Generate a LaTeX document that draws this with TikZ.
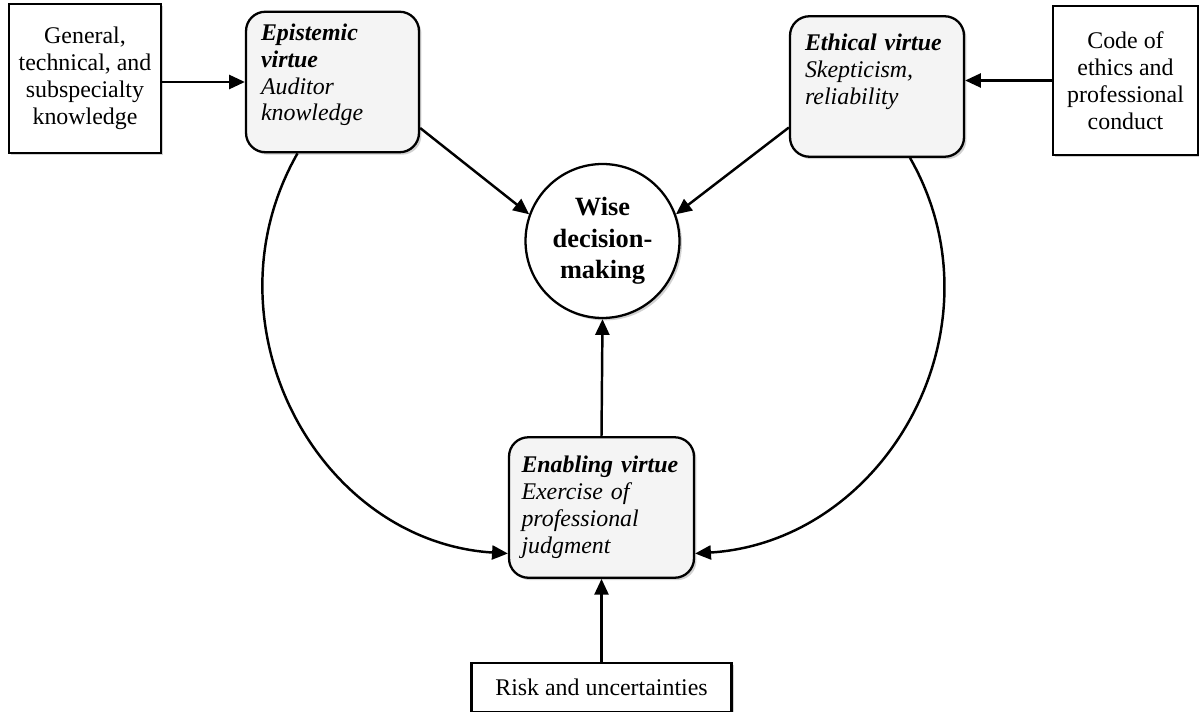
\documentclass[tikz,border=0pt]{standalone}
\usepackage{fontspec}
\setmainfont{Liberation Serif}
\usepackage{tikz}
\usetikzlibrary{arrows.meta, positioning, calc, shadows}
\definecolor{virtuegray}{RGB}{244,244,244}
\definecolor{lineblack}{RGB}{0,0,0}
\tikzset{
  %% ---- boxes ----
  srcbox/.style  = {rectangle, draw=lineblack, line width=1.3pt,
                    fill=white, minimum width=#1, minimum height=2.98cm,
                    align=center, inner sep=2pt,
                    font=\fontsize{13.6}{15.3}\selectfont,
                    drop shadow={fill=black, opacity=0.18,
                                 shadow xshift=1.4pt, shadow yshift=-1.4pt}},
  srcbox/.default = 3cm,
  virtue/.style  = {rectangle, rounded corners=11pt,
                    draw=lineblack, line width=1.3pt,
                    fill=virtuegray, text width=#1, align=left,
                    inner xsep=0.3cm, minimum height=2.81cm,
                    font=\fontsize{13.6}{15.3}\selectfont\itshape,
                    drop shadow={fill=black, opacity=0.18,
                                 shadow xshift=1.4pt, shadow yshift=-1.4pt}},
  virtue/.default = 2.9cm,
  goal/.style    = {circle, draw=lineblack, line width=1.3pt,
                    fill=white, minimum size=3.08cm, inner sep=0pt,
                    align=center, font=\fontsize{15}{17.9}\selectfont\bfseries,
                    drop shadow={fill=black, opacity=0.18,
                                 shadow xshift=1.4pt, shadow yshift=-1.4pt}},
  %% ---- arrows ----
  arrow/.style   = {-{Triangle[length=9pt,width=8pt]}, line width=1.4pt,
                    color=lineblack},
}

\begin{document}
\begin{tikzpicture}[x=0.02cm, y=-0.02cm]

  \path[use as bounding box, fill=white] (0,0) rectangle (1199,712);

  %% outer sources
  \node[srcbox=3.04cm] (gen) at (85,78.5)
    {General,\\ technical, and\\ subspecialty\\ knowledge};
  \node[srcbox=2.90cm] (code) at (1125.5,80.5)
    {Code of\\ ethics and\\ professional\\ conduct};

  %% virtues
  \node[virtue=2.86cm, text depth=2.0cm] (epi) at (332.5,82)
    {\textbf{Epistemic}\\ \textbf{virtue}\\ Auditor\\ knowledge};
  \node[virtue=2.88cm] (eth) at (877,86.5)
    {\textbf{Ethical virtue}\\ Skepticism,\\ reliability\\ \strut};
  \node[virtue=3.2cm, inner xsep=0.25cm] (enab) at (601.5,507.5)
    {\textbf{Enabling virtue}\\ Exercise of\\ professional\\ judgment};

  %% goal
  \node[goal] (wise) at (602.5,241) {Wise\\ decision-\\ making};

  %% risk
  \node[srcbox=5.2cm, minimum height=0.98cm, below=1.66cm of enab] (risk)
    {Risk and uncertainties};

  %% Arrows
  \draw[arrow] (gen.east |- epi.west) -- (epi.west);
  \draw[arrow] (code.west) -- (code.west -| eth.east);
  \draw[arrow] ($(epi.east)+(0,46)$) -- (wise.160);
  \draw[arrow] ($(eth.west)+(0,41)$) -- (wise.20);
  \draw[arrow] (enab.north) -- (wise.south);
  \draw[arrow] (risk.north) -- (enab.south);
  \draw[arrow] ($(epi.south)+(-35,0)$)
    .. controls +(-97,170) and +(-191,-12) .. ($(enab.west)+(0,46)$);
  \draw[arrow] ($(eth.south)+(33,0)$)
    .. controls +(97,170) and +(191,-12) .. ($(enab.east)+(0,46)$);

\end{tikzpicture}
\end{document}
